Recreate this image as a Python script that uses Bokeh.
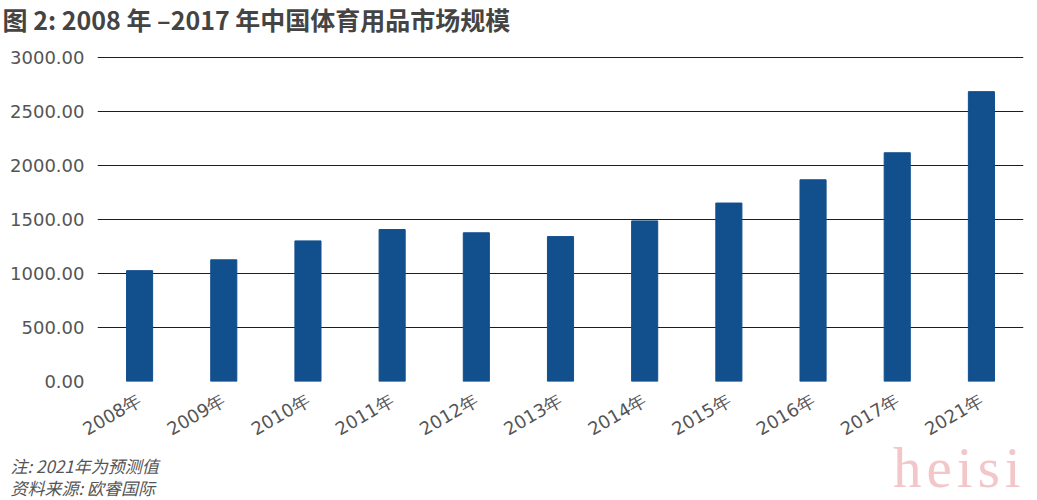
from bokeh.plotting import figure
from bokeh.models import Range1d, Title, FixedTicker, NumeralTickFormatter, Div
from bokeh.layouts import column
from bokeh.embed import file_html
from bokeh.resources import INLINE
import math

years = ["2008年", "2009年", "2010年", "2011年", "2012年", "2013年",
         "2014年", "2015年", "2016年", "2017年", "2021年"]
market_size = [1025, 1125, 1300, 1405, 1375, 1340, 1485, 1650, 1865, 2115, 2680]
y_ticks = [0, 500, 1000, 1500, 2000, 2500, 3000]
title_text = "图 2: 2008 年 –2017 年中国体育用品市场规模"
notes = ["注: 2021年为预测值", "资料来源: 欧睿国际"]
watermark = "heisi"

p = figure(x_range=years, y_range=Range1d(0, 3005),
           width=1037, height=500, output_backend="svg", toolbar_location=None,
           min_border_left=97, min_border_right=14, min_border_top=55, min_border_bottom=119)
p.outline_line_color = None
p.background_fill_color = "white"

p.vbar(x=years, top=market_size, width=0.31, color="#124f8d")

# title (second blank line makes the title panel fill the top border)
p.title.text = title_text + "\n\u00a0"
p.title.text_font = "Noto Sans CJK SC"
p.title.text_font_size = "25px"
p.title.text_font_style = "bold"
p.title.text_color = "#444444"
p.title.text_line_height = 0.5
p.title.align = "left"
p.title.offset = -95
p.title.vertical_align = "top"
p.title.standoff = 0

# y axis
p.yaxis.ticker = FixedTicker(ticks=y_ticks)
p.yaxis.formatter = NumeralTickFormatter(format="0.00")
p.yaxis.axis_line_color = None
p.yaxis.major_tick_line_color = None
p.yaxis.minor_tick_line_color = None
p.yaxis.major_label_text_font = "DejaVu Sans"
p.yaxis.major_label_text_font_size = "18px"
p.yaxis.major_label_text_color = "#555555"
p.yaxis.major_label_standoff = 7

# x axis
p.xaxis.axis_line_color = None
p.xaxis.major_tick_line_color = None
p.xaxis.minor_tick_line_color = None
p.xaxis.major_label_orientation = math.pi / 6
p.xaxis.major_label_text_font = "DejaVu Sans"
p.xaxis.major_label_text_font_size = "18px"
p.xaxis.major_label_text_color = "#555555"
p.xaxis.major_label_standoff = 11

p.xgrid.grid_line_color = None
p.ygrid.grid_line_color = "#1e1e1e"
p.ygrid.grid_line_width = 1

note_title = Title(text="\n".join(notes), align="left", offset=-87,
                   text_font="Noto Sans CJK SC", text_font_size="17px",
                   text_font_style="italic", text_color="#555555",
                   text_line_height=0.85, vertical_align="bottom", standoff=0)
p.add_layout(note_title, "below")

wm = Div(text=watermark, height=57, margin=(-61, 0, 0, 893),
         styles={"font-family": "Liberation Serif", "font-size": "57px",
                 "color": "#f3c6c9", "letter-spacing": "5px", "line-height": "57px"})

layout = column(p, wm, spacing=0)
open("out.html", "w").write(file_html(layout, INLINE))
